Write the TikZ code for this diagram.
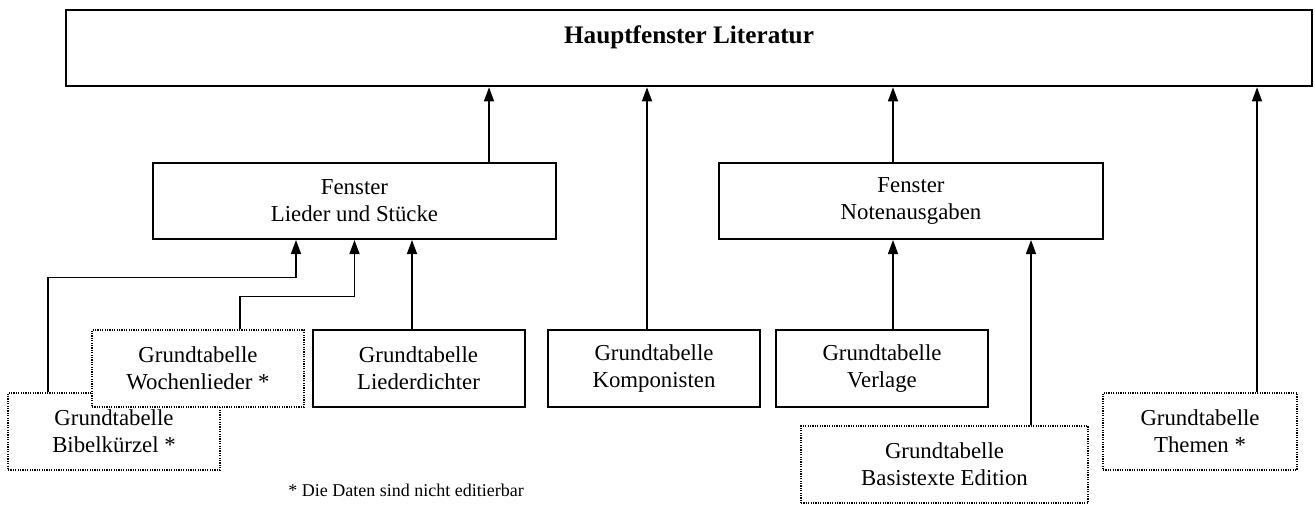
\documentclass[tikz,border=0pt]{standalone}
\usepackage{fontspec}
\setmainfont{Liberation Serif}
\usetikzlibrary{arrows.meta}

\tikzset{
  hauptbox/.style={draw, line width=1.3pt, minimum width=623pt, inner sep=0pt,
    text height=16.5pt, text depth=21.5pt, font=\bfseries\fontsize{12.6}{15}\selectfont},
  fenster/.style={draw, line width=1pt, fill=white, minimum height=38pt, inner sep=0pt,
    align=center, font=\fontsize{11.4}{13.5}\selectfont},
  tabelle/.style={fenster, minimum width=106pt, minimum height=38.5pt},
  nureinsicht/.style={tabelle, line width=0.7pt, dash pattern=on 0.6pt off 0.6pt},
  pfeil/.style={-{Triangle[length=7pt,width=5pt]}, line width=0.7pt}
}

\begin{document}
\begin{tikzpicture}[x=0.5pt, y=-0.5pt]
\useasboundingbox (0,0) rectangle (1315,505);

% Hauptfenster
\node[hauptbox] (haupt) at (689,48) {Hauptfenster Literatur};

% Fenster
\node[fenster, minimum width=201.5pt] (lieder) at (354.5,201) {Fenster\\Lieder und Stücke};
\node[fenster, minimum width=192pt] (noten) at (911,201) {Fenster\\Notenausgaben};

% Grundtabellen
\node[nureinsicht] (bibel) at (114,431.5) {Grundtabelle\\Bibelkürzel *};
\node[nureinsicht] (wochen) at (198,368.5) {Grundtabelle\\Wochenlieder *};
\node[tabelle] (dichter) at (418.5,368.5) {Grundtabelle\\Liederdichter};
\node[tabelle] (kompon) at (654,368.5) {Grundtabelle\\Komponisten};
\node[tabelle] (verlage) at (882,368.5) {Grundtabelle\\Verlage};
\node[nureinsicht, minimum width=143.5pt] (basis) at (944.5,464.5) {Grundtabelle\\Basistexte Edition};
\node[nureinsicht, minimum width=97pt] (themen) at (1200,431.5) {Grundtabelle\\Themen *};

\node[font=\fontsize{9}{11}\selectfont] (hinweis) at (406,490) {* Die Daten sind nicht editierbar};

% Verbindungen zum Fenster Lieder und Stuecke
\draw[pfeil] ([xshift=-33pt]bibel.north) -- ++(0,-115) -| ([xshift=-29.25pt]lieder.south);
\draw[pfeil] ([xshift=21pt]wochen.north) -- ++(0,-33) -| (lieder.south);
\draw[pfeil] ([xshift=-3.25pt]dichter.north) -- ([xshift=-3.25pt]dichter.north |- lieder.south);

% Verbindungen zum Fenster Notenausgaben
\draw[pfeil] ([xshift=5.5pt]verlage.north) -- ([xshift=5.5pt]verlage.north |- noten.south);
\draw[pfeil] ([xshift=43.25pt]basis.north) -- ([xshift=43.25pt]basis.north |- noten.south);

% Verbindungen zum Hauptfenster
\draw[pfeil] ([xshift=67.25pt]lieder.north) -- ([xshift=67.25pt]lieder.north |- haupt.south);
\draw[pfeil] ([xshift=-3.5pt]kompon.north) -- ([xshift=-3.5pt]kompon.north |- haupt.south);
\draw[pfeil] ([xshift=-9pt]noten.north) -- ([xshift=-9pt]noten.north |- haupt.south);
\draw[pfeil] ([xshift=28.5pt]themen.north) -- ([xshift=28.5pt]themen.north |- haupt.south);

\end{tikzpicture}
\end{document}
